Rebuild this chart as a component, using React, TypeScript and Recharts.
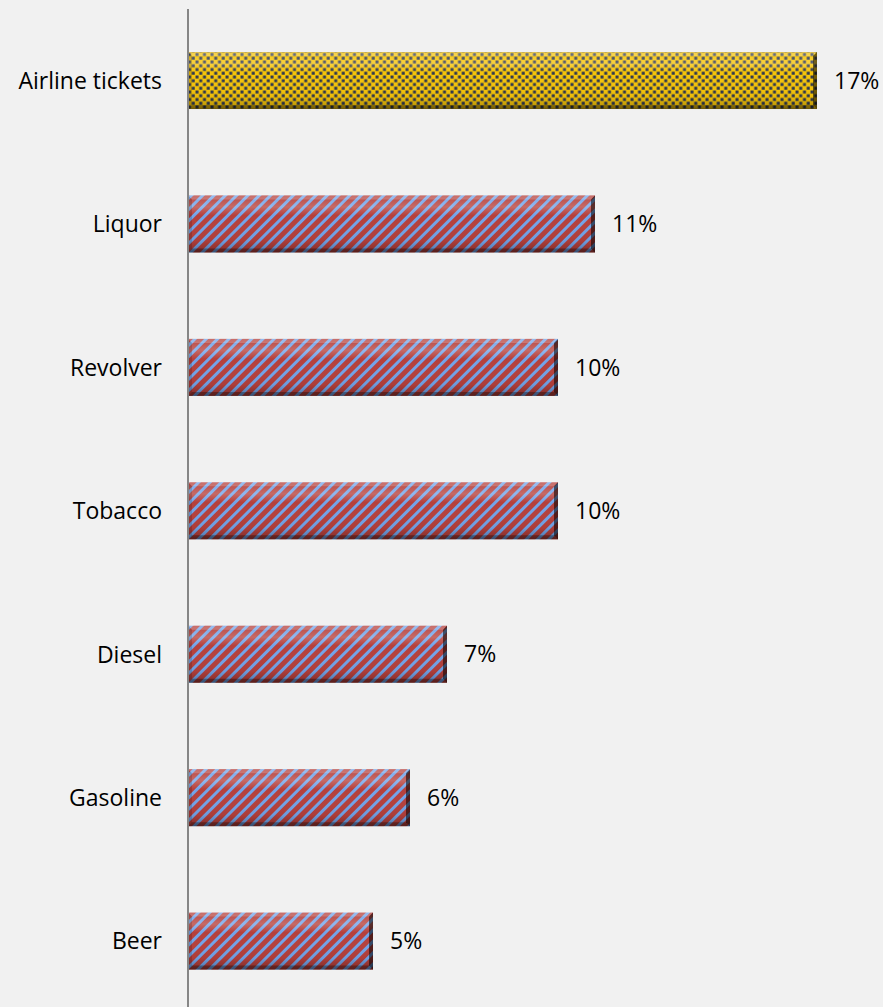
import { BarChart, Bar, XAxis, YAxis, LabelList, Cell } from 'recharts'

const categories = ['Airline tickets', 'Liquor', 'Revolver', 'Tobacco', 'Diesel', 'Gasoline', 'Beer']
const shares = [17, 11, 10, 10, 7, 6, 5]
const fills = ['url(#dots)', 'url(#stripes)', 'url(#stripes)', 'url(#stripes)', 'url(#stripes)', 'url(#stripes)', 'url(#stripes)']

const data = categories.map((name, i) => ({ name, value: shares[i], fill: fills[i] }))

const FONT = '"Open Sans", sans-serif'

function BevelBar(props: any) {
  const { x, y, width, height, fill } = props
  if (!width || width <= 0) return null
  const e = 4
  return (
    <g>
      <rect x={x} y={y} width={width} height={height} fill={fill} />
      <rect x={x} y={y} width={width} height={height} fill="url(#shine)" />
      <polygon points={`${x},${y} ${x + width},${y} ${x + width - e},${y + e} ${x + e},${y + e}`} fill="rgba(255,255,255,0.2)" />
      <polygon points={`${x + width},${y} ${x + width},${y + height} ${x + width - e},${y + height - e} ${x + width - e},${y + e}`} fill="rgba(0,0,0,0.55)" />
      <polygon points={`${x},${y + height} ${x + width},${y + height} ${x + width - e},${y + height - e} ${x + e},${y + height - e}`} fill="rgba(0,0,0,0.3)" />
      <polygon points={`${x},${y} ${x + e},${y + e} ${x + e},${y + height - e} ${x},${y + height}`} fill="rgba(0,0,0,0.15)" />
    </g>
  )
}

export default function App() {
  return (
    <div style={{ position: 'absolute', left: 0, top: 0, width: 883, height: 1007, background: '#f1f1f1', overflow: 'hidden' }}>
      <BarChart
        width={883}
        height={1020}
        data={data}
        layout="vertical"
        margin={{ top: 9, right: 29, bottom: 7, left: 0 }}
        barCategoryGap="30%"
      >
        <defs>
          <pattern id="stripes" width="8" height="8" patternUnits="userSpaceOnUse" patternTransform="rotate(45)">
            <rect width="8" height="8" fill="#b5403c" />
            <rect width="3" height="8" fill="#72a4ea" />
          </pattern>
          <pattern id="dots" width="7.5" height="7.5" patternUnits="userSpaceOnUse">
            <rect width="7.5" height="7.5" fill="#f6c409" />
            <rect x="0.5" y="0.5" width="3" height="3" fill="#2b3550" />
            <rect x="4.25" y="4.25" width="3" height="3" fill="#2b3550" />
          </pattern>
          <linearGradient id="shine" x1="0" y1="0" x2="0" y2="1">
            <stop offset="0" stopColor="#ffffff" stopOpacity="0.05" />
            <stop offset="0.2" stopColor="#ffffff" stopOpacity="0.22" />
            <stop offset="0.35" stopColor="#ffffff" stopOpacity="0" />
            <stop offset="0.8" stopColor="#000000" stopOpacity="0.05" />
            <stop offset="1" stopColor="#000000" stopOpacity="0.3" />
          </linearGradient>
        </defs>
        <XAxis type="number" domain={[0, 18]} hide />
        <YAxis
          type="category"
          dataKey="name"
          width={188}
          axisLine={{ stroke: '#868686', strokeWidth: 2 }}
          tickLine={false}
          tickMargin={20}
          tick={{ fontSize: 23, fill: '#000', fontFamily: FONT }}
        />
        <Bar dataKey="value" isAnimationActive={false} shape={<BevelBar />}>
          {data.map((d) => (
            <Cell key={d.name} fill={d.fill} />
          ))}
          <LabelList
            dataKey="value"
            position="right"
            offset={17}
            formatter={(v: any) => `${v}%`}
            style={{ fontSize: 23, fill: '#000', fontFamily: FONT }}
          />
        </Bar>
      </BarChart>
    </div>
  )
}
